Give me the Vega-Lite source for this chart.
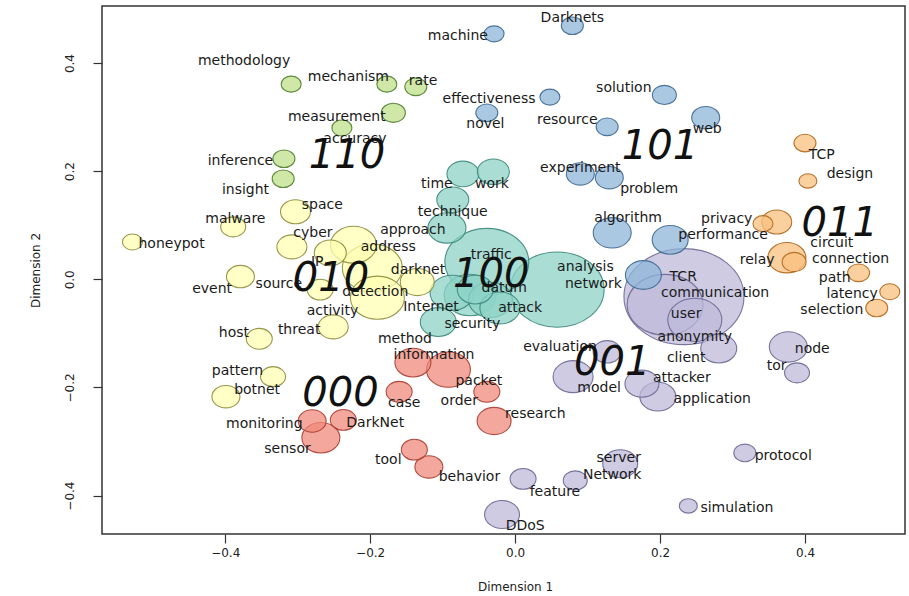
{
  "$schema": "https://vega.github.io/schema/vega-lite/v6.json",
  "width": 803,
  "height": 528,
  "autosize": {"type": "none"},
  "padding": {"left": 102, "top": 6, "right": 4, "bottom": 62},
  "background": "white",
  "config": {
    "view": {"stroke": "#333333", "strokeWidth": 1.5},
    "axis": {"domain": false, "grid": false, "tickColor": "#333333", "tickSize": 9, "tickWidth": 1.2,
             "labelFont": "DejaVu Sans", "labelFontSize": 12, "labelColor": "#222222",
             "titleFont": "DejaVu Sans", "titleFontSize": 12, "titleFontWeight": "normal", "titleColor": "#222222"}
  },
  "datasets": {
    "bubbles": [
      {"c": "110", "x": -0.309, "y": 0.361, "weight": 100},
      {"c": "110", "x": -0.177, "y": 0.361, "weight": 100},
      {"c": "110", "x": -0.137, "y": 0.356, "weight": 121},
      {"c": "110", "x": -0.168, "y": 0.308, "weight": 144},
      {"c": "110", "x": -0.239, "y": 0.280, "weight": 100},
      {"c": "110", "x": -0.319, "y": 0.223, "weight": 121},
      {"c": "110", "x": -0.320, "y": 0.186, "weight": 121},
      {"c": "101", "x": 0.079, "y": 0.469, "weight": 121},
      {"c": "101", "x": -0.029, "y": 0.454, "weight": 100},
      {"c": "101", "x": 0.048, "y": 0.337, "weight": 100},
      {"c": "101", "x": 0.206, "y": 0.341, "weight": 144},
      {"c": "101", "x": -0.039, "y": 0.308, "weight": 121},
      {"c": "101", "x": 0.127, "y": 0.282, "weight": 121},
      {"c": "101", "x": 0.263, "y": 0.299, "weight": 196},
      {"c": "101", "x": 0.090, "y": 0.195, "weight": 196},
      {"c": "101", "x": 0.130, "y": 0.188, "weight": 196},
      {"c": "101", "x": 0.134, "y": 0.086, "weight": 361},
      {"c": "101", "x": 0.214, "y": 0.073, "weight": 324},
      {"c": "101", "x": 0.177, "y": 0.008, "weight": 324},
      {"c": "011", "x": 0.400, "y": 0.252, "weight": 121},
      {"c": "011", "x": 0.404, "y": 0.182, "weight": 81},
      {"c": "011", "x": 0.361, "y": 0.106, "weight": 225},
      {"c": "011", "x": 0.342, "y": 0.103, "weight": 100},
      {"c": "011", "x": 0.375, "y": 0.040, "weight": 361},
      {"c": "011", "x": 0.385, "y": 0.032, "weight": 144},
      {"c": "011", "x": 0.474, "y": 0.012, "weight": 121},
      {"c": "011", "x": 0.517, "y": -0.023, "weight": 100},
      {"c": "011", "x": 0.499, "y": -0.053, "weight": 121},
      {"c": "100", "x": -0.072, "y": 0.195, "weight": 256},
      {"c": "100", "x": -0.030, "y": 0.199, "weight": 256},
      {"c": "100", "x": -0.086, "y": 0.147, "weight": 256},
      {"c": "100", "x": -0.094, "y": 0.095, "weight": 361},
      {"c": "100", "x": -0.039, "y": 0.032, "weight": 1764},
      {"c": "100", "x": 0.058, "y": -0.019, "weight": 2209},
      {"c": "100", "x": -0.087, "y": -0.025, "weight": 484},
      {"c": "100", "x": -0.062, "y": -0.029, "weight": 676},
      {"c": "100", "x": -0.034, "y": -0.038, "weight": 484},
      {"c": "100", "x": -0.055, "y": -0.019, "weight": 324},
      {"c": "100", "x": -0.106, "y": -0.079, "weight": 324},
      {"c": "100", "x": -0.021, "y": -0.053, "weight": 400},
      {"c": "010", "x": -0.303, "y": 0.125, "weight": 225},
      {"c": "010", "x": -0.389, "y": 0.097, "weight": 156},
      {"c": "010", "x": -0.528, "y": 0.069, "weight": 100},
      {"c": "010", "x": -0.308, "y": 0.060, "weight": 225},
      {"c": "010", "x": -0.223, "y": 0.064, "weight": 529},
      {"c": "010", "x": -0.255, "y": 0.049, "weight": 256},
      {"c": "010", "x": -0.269, "y": -0.019, "weight": 169},
      {"c": "010", "x": -0.197, "y": 0.021, "weight": 900},
      {"c": "010", "x": -0.190, "y": -0.034, "weight": 729},
      {"c": "010", "x": -0.135, "y": -0.005, "weight": 289},
      {"c": "010", "x": -0.379, "y": 0.005, "weight": 196},
      {"c": "010", "x": -0.251, "y": -0.088, "weight": 225},
      {"c": "010", "x": -0.353, "y": -0.110, "weight": 169},
      {"c": "010", "x": -0.334, "y": -0.180, "weight": 156},
      {"c": "010", "x": -0.399, "y": -0.217, "weight": 196},
      {"c": "000", "x": -0.280, "y": -0.262, "weight": 196},
      {"c": "000", "x": -0.237, "y": -0.260, "weight": 169},
      {"c": "000", "x": -0.268, "y": -0.293, "weight": 361},
      {"c": "000", "x": -0.160, "y": -0.208, "weight": 169},
      {"c": "000", "x": -0.141, "y": -0.154, "weight": 324},
      {"c": "000", "x": -0.092, "y": -0.167, "weight": 484},
      {"c": "000", "x": -0.039, "y": -0.208, "weight": 169},
      {"c": "000", "x": -0.029, "y": -0.262, "weight": 289},
      {"c": "000", "x": -0.139, "y": -0.315, "weight": 169},
      {"c": "000", "x": -0.119, "y": -0.347, "weight": 196},
      {"c": "001", "x": 0.011, "y": -0.369, "weight": 169},
      {"c": "001", "x": 0.083, "y": -0.372, "weight": 144},
      {"c": "001", "x": 0.145, "y": -0.341, "weight": 306},
      {"c": "001", "x": -0.018, "y": -0.435, "weight": 306},
      {"c": "001", "x": 0.239, "y": -0.419, "weight": 81},
      {"c": "001", "x": 0.317, "y": -0.321, "weight": 121},
      {"c": "001", "x": 0.377, "y": -0.125, "weight": 361},
      {"c": "001", "x": 0.389, "y": -0.173, "weight": 156},
      {"c": "001", "x": 0.281, "y": -0.128, "weight": 324},
      {"c": "001", "x": 0.175, "y": -0.193, "weight": 289},
      {"c": "001", "x": 0.197, "y": -0.217, "weight": 324},
      {"c": "001", "x": 0.080, "y": -0.180, "weight": 400},
      {"c": "001", "x": 0.127, "y": -0.134, "weight": 196},
      {"c": "001", "x": 0.233, "y": -0.032, "weight": 3600},
      {"c": "001", "x": 0.207, "y": -0.047, "weight": 1444},
      {"c": "001", "x": 0.248, "y": -0.075, "weight": 729}
    ],
    "words": [
      {"w": "methodology", "x": -0.374, "y": 0.404},
      {"w": "mechanism", "x": -0.230, "y": 0.374},
      {"w": "rate", "x": -0.127, "y": 0.367},
      {"w": "measurement", "x": -0.246, "y": 0.300},
      {"w": "accuracy", "x": -0.221, "y": 0.260},
      {"w": "inference", "x": -0.379, "y": 0.219},
      {"w": "insight", "x": -0.372, "y": 0.165},
      {"w": "Darknets", "x": 0.079, "y": 0.483},
      {"w": "machine", "x": -0.079, "y": 0.450},
      {"w": "effectiveness", "x": -0.036, "y": 0.334},
      {"w": "solution", "x": 0.150, "y": 0.354},
      {"w": "novel", "x": -0.041, "y": 0.287},
      {"w": "resource", "x": 0.072, "y": 0.295},
      {"w": "web", "x": 0.265, "y": 0.278},
      {"w": "experiment", "x": 0.090, "y": 0.206},
      {"w": "problem", "x": 0.185, "y": 0.167},
      {"w": "algorithm", "x": 0.156, "y": 0.114},
      {"w": "performance", "x": 0.287, "y": 0.082},
      {"w": "privacy", "x": 0.292, "y": 0.112},
      {"w": "TCP", "x": 0.423, "y": 0.230},
      {"w": "design", "x": 0.462, "y": 0.195},
      {"w": "circuit", "x": 0.437, "y": 0.067},
      {"w": "relay", "x": 0.334, "y": 0.036},
      {"w": "connection", "x": 0.463, "y": 0.038},
      {"w": "path", "x": 0.441, "y": 0.003},
      {"w": "latency", "x": 0.465, "y": -0.027},
      {"w": "selection", "x": 0.437, "y": -0.056},
      {"w": "time", "x": -0.108, "y": 0.177},
      {"w": "work", "x": -0.032, "y": 0.177},
      {"w": "technique", "x": -0.086, "y": 0.125},
      {"w": "approach", "x": -0.141, "y": 0.091},
      {"w": "address", "x": -0.175, "y": 0.060},
      {"w": "traffic", "x": -0.033, "y": 0.045},
      {"w": "analysis", "x": 0.097, "y": 0.023},
      {"w": "network", "x": 0.108, "y": -0.008},
      {"w": "datum", "x": -0.015, "y": -0.016},
      {"w": "Internet", "x": -0.116, "y": -0.051},
      {"w": "attack", "x": 0.007, "y": -0.053},
      {"w": "security", "x": -0.059, "y": -0.082},
      {"w": "space", "x": -0.266, "y": 0.138},
      {"w": "malware", "x": -0.386, "y": 0.112},
      {"w": "honeypot", "x": -0.474, "y": 0.066},
      {"w": "cyber", "x": -0.279, "y": 0.086},
      {"w": "IP", "x": -0.273, "y": 0.032},
      {"w": "darknet", "x": -0.134, "y": 0.018},
      {"w": "detection", "x": -0.193, "y": -0.023},
      {"w": "event", "x": -0.418, "y": -0.018},
      {"w": "source", "x": -0.326, "y": -0.008},
      {"w": "activity", "x": -0.252, "y": -0.058},
      {"w": "threat", "x": -0.298, "y": -0.093},
      {"w": "host", "x": -0.388, "y": -0.099},
      {"w": "pattern", "x": -0.383, "y": -0.169},
      {"w": "botnet", "x": -0.356, "y": -0.204},
      {"w": "method", "x": -0.152, "y": -0.110},
      {"w": "information", "x": -0.112, "y": -0.140},
      {"w": "packet", "x": -0.050, "y": -0.188},
      {"w": "case", "x": -0.153, "y": -0.228},
      {"w": "order", "x": -0.077, "y": -0.225},
      {"w": "research", "x": 0.028, "y": -0.249},
      {"w": "monitoring", "x": -0.346, "y": -0.267},
      {"w": "DarkNet", "x": -0.193, "y": -0.265},
      {"w": "sensor", "x": -0.314, "y": -0.313},
      {"w": "tool", "x": -0.175, "y": -0.335},
      {"w": "behavior", "x": -0.063, "y": -0.365},
      {"w": "feature", "x": 0.055, "y": -0.393},
      {"w": "Network", "x": 0.134, "y": -0.361},
      {"w": "server", "x": 0.143, "y": -0.330},
      {"w": "DDoS", "x": 0.014, "y": -0.456},
      {"w": "simulation", "x": 0.306, "y": -0.422},
      {"w": "protocol", "x": 0.370, "y": -0.326},
      {"w": "node", "x": 0.410, "y": -0.128},
      {"w": "tor", "x": 0.361, "y": -0.160},
      {"w": "anonymity", "x": 0.248, "y": -0.106},
      {"w": "client", "x": 0.236, "y": -0.145},
      {"w": "attacker", "x": 0.230, "y": -0.182},
      {"w": "application", "x": 0.272, "y": -0.221},
      {"w": "model", "x": 0.116, "y": -0.201},
      {"w": "evaluation", "x": 0.062, "y": -0.125},
      {"w": "TCR", "x": 0.232, "y": 0.005},
      {"w": "communication", "x": 0.276, "y": -0.025},
      {"w": "user", "x": 0.236, "y": -0.064}
    ],
    "codes": [
      {"code": "110", "x": -0.232, "y": 0.228},
      {"code": "101", "x": 0.200, "y": 0.245},
      {"code": "011", "x": 0.448, "y": 0.103},
      {"code": "010", "x": -0.254, "y": 0.001},
      {"code": "100", "x": -0.033, "y": 0.008},
      {"code": "000", "x": -0.241, "y": -0.213},
      {"code": "001", "x": 0.134, "y": -0.154}
    ]
  },
  "encoding": {
    "x": {"field": "x", "type": "quantitative",
          "scale": {"domain": [-0.570, 0.538], "nice": false, "zero": false},
          "axis": {"values": [-0.4, -0.2, 0, 0.2, 0.4], "format": ".1f", "labelPadding": 4,
                   "title": "Dimension 1", "titleX": 413, "titleY": 52, "titleAlign": "center", "titleBaseline": "middle"}},
    "y": {"field": "y", "type": "quantitative",
          "scale": {"domain": [-0.471, 0.5055], "nice": false, "zero": false},
          "axis": {"values": [-0.4, -0.2, 0, 0.2, 0.4], "format": ".1f", "labelAngle": -90, "labelAlign": "center",
                   "labelBaseline": "bottom", "labelPadding": 17,
                   "title": "Dimension 2", "titleX": -67, "titleY": 264, "titleAngle": -90, "titleAlign": "center", "titleBaseline": "middle"}}
  },
  "layer": [
    {
      "data": {"name": "bubbles"},
      "mark": {"type": "point", "filled": true, "shape": "M -1 0 A 1 0.8 0 1 1 1 0 A 1 0.8 0 1 1 -1 0 Z",
               "fillOpacity": 0.75, "strokeWidth": 1.1, "strokeOpacity": 0.9},
      "encoding": {
        "size": {"field": "weight", "type": "quantitative", "scale": {"type": "linear", "domain": [0, 3600], "range": [0, 14400], "zero": true}, "legend": null},
        "fill": {"field": "c", "type": "nominal", "scale": {"domain": ["110", "101", "011", "100", "010", "000", "001"],
                 "range": ["#bfe08a", "#8fb6d9", "#f9c07f", "#8dd3c7", "#ffffb3", "#f08a7c", "#bebada"]}, "legend": null},
        "stroke": {"field": "c", "type": "nominal", "scale": {"domain": ["110", "101", "011", "100", "010", "000", "001"],
                 "range": ["#4f7d2c", "#3d6890", "#b0671c", "#3c8a7c", "#8c8c3c", "#a83c30", "#6b6792"]}, "legend": null},
        "order": {"field": "weight", "sort": "descending"}
      }
    },
    {
      "data": {"name": "words"},
      "mark": {"type": "text", "font": "DejaVu Sans", "fontSize": 14, "color": "#1a1a1a", "align": "center", "baseline": "middle"},
      "encoding": {"text": {"field": "w"}}
    },
    {
      "data": {"name": "codes"},
      "mark": {"type": "text", "font": "DejaVu Sans", "fontSize": 40, "fontStyle": "italic", "color": "#111111", "align": "center", "baseline": "middle"},
      "encoding": {"text": {"field": "code"}}
    }
  ]
}
